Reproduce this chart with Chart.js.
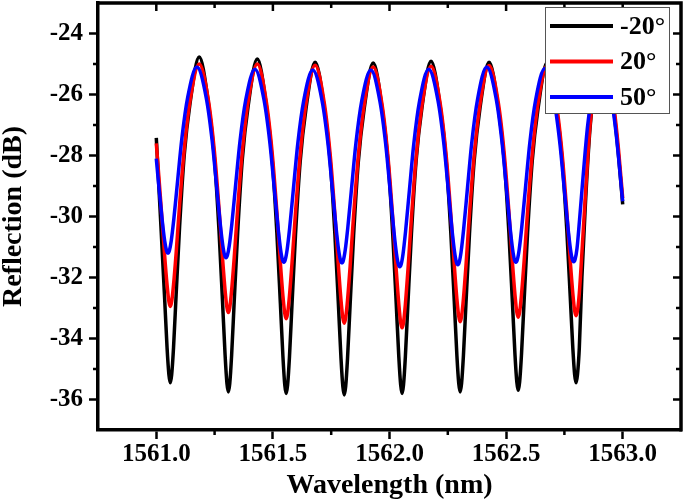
<!DOCTYPE html>
<html lang="en">
<head>
    <meta charset="UTF-8">
    <title>Reflection vs Wavelength</title>
    <script src="https://cdn.jsdelivr.net/npm/chart.js"></script>
    <style>
        body { margin: 0; background: #fff; }
        .wrap { width: 685px; height: 500px; position: relative; }
    </style>
</head>
<body>
    <div class="wrap">
        <canvas id="reflectionChart"></canvas>
    </div>

    <script>
        // Wavelength samples (nm) for the -20° and 20° traces
        const wavelength = [
            1561.000, 1561.020, 1561.035, 1561.046, 1561.054,
            1561.060, 1561.066, 1561.074, 1561.085, 1561.100, 1561.120, 1561.145, 1561.184, 1561.224, 1561.249, 1561.269, 1561.284, 1561.295, 1561.303,
            1561.309, 1561.315, 1561.323, 1561.334, 1561.349, 1561.369, 1561.394, 1561.433, 1561.472, 1561.497, 1561.517, 1561.532, 1561.543, 1561.551,
            1561.557, 1561.563, 1561.571, 1561.582, 1561.597, 1561.617, 1561.642, 1561.681, 1561.721, 1561.746, 1561.766, 1561.781, 1561.792, 1561.800,
            1561.806, 1561.812, 1561.820, 1561.831, 1561.846, 1561.866, 1561.891, 1561.930, 1561.969, 1561.994, 1562.014, 1562.029, 1562.040, 1562.048,
            1562.054, 1562.060, 1562.068, 1562.079, 1562.094, 1562.114, 1562.139, 1562.178, 1562.218, 1562.243, 1562.263, 1562.278, 1562.289, 1562.297,
            1562.303, 1562.309, 1562.317, 1562.328, 1562.343, 1562.363, 1562.388, 1562.427, 1562.467, 1562.492, 1562.512, 1562.527, 1562.538, 1562.546,
            1562.552, 1562.558, 1562.566, 1562.577, 1562.592, 1562.612, 1562.637, 1562.676, 1562.715, 1562.740, 1562.760, 1562.775, 1562.786, 1562.794,
            1562.800, 1562.806, 1562.814, 1562.825, 1562.840, 1562.860, 1562.885, 1562.914, 1562.940, 1562.963, 1562.982, 1563.000
        ];

        // Reflection (dB) at -20°
        const reflMinus20 = [
            -27.42, -30.34, -32.57, -34.28, -35.18,
            -35.45, -35.18, -34.28, -32.57, -30.32, -27.97, -26.27, -24.77, -26.31, -28.06, -30.48, -32.79, -34.54, -35.48,
            -35.75, -35.48, -34.55, -32.80, -30.51, -28.11, -26.37, -24.84, -26.37, -28.13, -30.54, -32.84, -34.59, -35.53,
            -35.80, -35.53, -34.61, -32.87, -30.59, -28.20, -26.46, -24.94, -26.47, -28.21, -30.61, -32.90, -34.65, -35.58,
            -35.85, -35.58, -34.65, -32.91, -30.63, -28.23, -26.49, -24.97, -26.49, -28.22, -30.60, -32.88, -34.61, -35.53,
            -35.80, -35.53, -34.60, -32.86, -30.57, -28.18, -26.44, -24.91, -26.43, -28.16, -30.55, -32.82, -34.56, -35.48,
            -35.75, -35.48, -34.56, -32.83, -30.56, -28.18, -26.45, -24.94, -26.45, -28.17, -30.54, -32.80, -34.52, -35.43,
            -35.70, -35.43, -34.52, -32.80, -30.54, -28.18, -26.46, -24.95, -26.42, -28.10, -30.41, -32.62, -34.30, -35.19,
            -35.45, -35.19, -34.30, -32.00, -29.60, -27.10, -25.50, -24.95, -25.60, -26.60, -28.00, -29.60
        ];

        // Reflection (dB) at 20°
        const reflPlus20 = [
            -27.60, -29.61, -31.20, -32.23, -32.79,
            -32.95, -32.79, -32.23, -31.20, -29.61, -27.78, -26.19, -25.00, -26.22, -27.85, -29.73, -31.36, -32.42, -32.99,
            -33.15, -32.99, -32.42, -31.36, -29.73, -27.85, -26.22, -25.00, -26.25, -27.92, -29.84, -31.51, -32.60, -33.18,
            -33.35, -33.18, -32.60, -31.52, -29.86, -27.95, -26.29, -25.04, -26.31, -28.00, -29.95, -31.64, -32.74, -33.33,
            -33.50, -33.33, -32.74, -31.65, -29.97, -28.04, -26.36, -25.10, -26.38, -28.09, -30.06, -31.77, -32.88, -33.48,
            -33.65, -33.48, -32.88, -31.76, -30.05, -28.07, -26.36, -25.07, -26.33, -28.00, -29.93, -31.61, -32.70, -33.28,
            -33.45, -33.28, -32.69, -31.60, -29.92, -27.99, -26.31, -25.05, -26.29, -27.94, -29.84, -31.49, -32.56, -33.14,
            -33.30, -33.14, -32.56, -31.49, -29.84, -27.94, -26.29, -25.05, -26.28, -27.92, -29.81, -31.45, -32.51, -33.09,
            -33.25, -33.09, -32.51, -31.20, -29.30, -27.00, -25.60, -25.05, -25.55, -26.45, -27.80, -29.40
        ];

        // Wavelength samples (nm) for the 50° trace (slightly blue-shifted)
        const wavelength50 = [
            1561.000, 1561.010, 1561.025, 1561.036, 1561.044,
            1561.050, 1561.056, 1561.064, 1561.075, 1561.090, 1561.110, 1561.135, 1561.174, 1561.214, 1561.239, 1561.259, 1561.274, 1561.285, 1561.293,
            1561.299, 1561.305, 1561.313, 1561.324, 1561.339, 1561.359, 1561.384, 1561.423, 1561.462, 1561.487, 1561.507, 1561.522, 1561.533, 1561.541,
            1561.547, 1561.553, 1561.561, 1561.572, 1561.587, 1561.607, 1561.632, 1561.671, 1561.711, 1561.736, 1561.756, 1561.771, 1561.782, 1561.790,
            1561.796, 1561.802, 1561.810, 1561.821, 1561.836, 1561.856, 1561.881, 1561.920, 1561.959, 1561.984, 1562.004, 1562.019, 1562.030, 1562.038,
            1562.044, 1562.050, 1562.058, 1562.069, 1562.084, 1562.104, 1562.129, 1562.168, 1562.208, 1562.233, 1562.253, 1562.268, 1562.279, 1562.287,
            1562.293, 1562.299, 1562.307, 1562.318, 1562.333, 1562.353, 1562.378, 1562.417, 1562.457, 1562.482, 1562.502, 1562.517, 1562.528, 1562.536,
            1562.542, 1562.548, 1562.556, 1562.567, 1562.582, 1562.602, 1562.627, 1562.666, 1562.705, 1562.730, 1562.750, 1562.765, 1562.776, 1562.784,
            1562.790, 1562.796, 1562.804, 1562.815, 1562.830, 1562.850, 1562.875, 1562.904, 1562.930, 1562.953, 1562.972, 1563.000
        ];

        // Reflection (dB) at 50°
        const reflPlus50 = [
            -28.10, -28.94, -30.10, -30.80, -31.12,
            -31.20, -31.12, -30.80, -30.10, -28.94, -27.42, -26.08, -25.10, -26.10, -27.48, -29.04, -30.23, -30.94, -31.27,
            -31.35, -31.27, -30.95, -30.24, -29.06, -27.52, -26.16, -25.17, -26.18, -27.58, -29.16, -30.36, -31.09, -31.42,
            -31.50, -31.42, -31.09, -30.37, -29.17, -27.59, -26.21, -25.20, -26.21, -27.60, -29.18, -30.38, -31.11, -31.44,
            -31.52, -31.44, -31.11, -30.38, -29.18, -27.60, -26.21, -25.20, -26.23, -27.65, -29.26, -30.49, -31.23, -31.57,
            -31.65, -31.57, -31.23, -30.48, -29.25, -27.63, -26.21, -25.17, -26.20, -27.61, -29.21, -30.43, -31.16, -31.50,
            -31.58, -31.50, -31.16, -30.41, -29.18, -27.56, -26.14, -25.10, -26.12, -27.53, -29.13, -30.35, -31.08, -31.42,
            -31.50, -31.42, -31.09, -30.36, -29.15, -27.56, -26.17, -25.15, -26.16, -27.56, -29.14, -30.34, -31.07, -31.40,
            -31.48, -31.40, -31.05, -30.10, -28.70, -27.00, -25.75, -25.15, -25.45, -26.20, -27.30, -29.50
        ];

        const seriesNames = ['-20°', '20°', '50°'];
        const seriesColors = ['#000000', '#ff0000', '#0000ff'];

        const xTicks = [1561.0, 1561.5, 1562.0, 1562.5, 1563.0];
        const xMinorTicks = [1561.25, 1561.75, 1562.25, 1562.75];
        const yTicks = [-24, -26, -28, -30, -32, -34, -36];
        const yMinorTicks = [-25, -27, -29, -31, -33, -35];

        const serif = "'Liberation Serif', 'Times New Roman', serif";

        const toPoints = (xs, ys) => xs.map((x, i) => ({ x: x, y: ys[i] }));

        // top/right frame, minor ticks and mirrored ticks, plus the boxed legend
        const frameAndLegend = {
            id: 'frameAndLegend',
            afterDraw(chart) {
                const { ctx, chartArea: a, scales: { x, y } } = chart;
                ctx.save();
                ctx.strokeStyle = '#000';
                ctx.lineWidth = 3.5;
                ctx.beginPath();
                ctx.moveTo(a.left - 1.5, a.top);
                ctx.lineTo(a.right, a.top);
                ctx.lineTo(a.right, a.bottom + 1.5);
                ctx.stroke();

                ctx.lineWidth = 2.5;
                ctx.beginPath();
                xMinorTicks.forEach(v => {
                    const px = x.getPixelForValue(v);
                    ctx.moveTo(px, a.bottom); ctx.lineTo(px, a.bottom + 5);
                    ctx.moveTo(px, a.top); ctx.lineTo(px, a.top + 5);
                });
                xTicks.forEach(v => {
                    const px = x.getPixelForValue(v);
                    ctx.moveTo(px, a.top); ctx.lineTo(px, a.top + 8);
                });
                yMinorTicks.forEach(v => {
                    const py = y.getPixelForValue(v);
                    ctx.moveTo(a.left, py); ctx.lineTo(a.left - 5, py);
                    ctx.moveTo(a.right, py); ctx.lineTo(a.right - 5, py);
                });
                yTicks.forEach(v => {
                    const py = y.getPixelForValue(v);
                    ctx.moveTo(a.right, py); ctx.lineTo(a.right - 8, py);
                });
                ctx.stroke();

                // legend box
                const boxW = 124, boxH = 106;
                const bx = a.right - 12 - boxW, by = a.top + 4;
                ctx.fillStyle = '#fff';
                ctx.fillRect(bx, by, boxW, boxH);
                ctx.strokeStyle = '#555';
                ctx.lineWidth = 1;
                ctx.strokeRect(bx + 0.5, by + 0.5, boxW, boxH);

                ctx.font = 'bold 26px ' + serif;
                ctx.textBaseline = 'middle';
                ctx.textAlign = 'left';
                seriesNames.forEach((name, i) => {
                    const ly = by + 19 + i * 35.5;
                    ctx.strokeStyle = seriesColors[i];
                    ctx.lineWidth = 4;
                    ctx.beginPath();
                    ctx.moveTo(bx + 5, ly);
                    ctx.lineTo(bx + 68, ly);
                    ctx.stroke();
                    ctx.fillStyle = '#000';
                    ctx.fillText(name, bx + 75, ly + 1);
                });
                ctx.restore();
            }
        };

        new Chart(document.getElementById('reflectionChart'), {
            type: 'line',
            data: {
                datasets: [
                    {
                        label: seriesNames[0],
                        data: toPoints(wavelength, reflMinus20),
                        borderColor: seriesColors[0],
                        order: 3
                    },
                    {
                        label: seriesNames[1],
                        data: toPoints(wavelength, reflPlus20),
                        borderColor: seriesColors[1],
                        order: 2
                    },
                    {
                        label: seriesNames[2],
                        data: toPoints(wavelength50, reflPlus50),
                        borderColor: seriesColors[2],
                        order: 1
                    }
                ]
            },
            options: {
                responsive: true,
                maintainAspectRatio: false,
                animation: false,
                layout: { padding: { top: 3, right: 4, bottom: 0, left: 0 } },
                elements: {
                    point: { radius: 0 },
                    line: { borderWidth: 3.5, cubicInterpolationMode: 'monotone', fill: false }
                },
                plugins: {
                    legend: { display: false },
                    title: { display: false },
                    tooltip: { enabled: false }
                },
                scales: {
                    x: {
                        type: 'linear',
                        min: 1560.75,
                        max: 1563.25,
                        afterFit: s => {
                            s.height = 70;
                            s.paddingLeft = 0;
                            s.paddingRight = 0;
                        },
                        afterBuildTicks: s => { s.ticks = xTicks.map(v => ({ value: v })); },
                        grid: { drawOnChartArea: false, drawTicks: true, tickLength: 9, tickWidth: 2.5, tickColor: '#000' },
                        border: { display: true, color: '#000', width: 3.5 },
                        ticks: {
                            autoSkip: false,
                            maxRotation: 0,
                            padding: 1,
                            color: '#000',
                            font: { family: serif, size: 25, weight: 'bold' },
                            callback: v => Number(v).toFixed(1)
                        },
                        title: {
                            display: true,
                            text: 'Wavelength (nm)',
                            color: '#000',
                            padding: { top: 0, bottom: 0 },
                            font: { family: serif, size: 28, weight: 'bold', lineHeight: 1 }
                        }
                    },
                    y: {
                        type: 'linear',
                        min: -37,
                        max: -23,
                        afterFit: s => {
                            s.width = 98;
                            s.paddingTop = 0;
                            s.paddingBottom = 0;
                        },
                        afterBuildTicks: s => { s.ticks = yTicks.map(v => ({ value: v })); },
                        grid: { drawOnChartArea: false, drawTicks: true, tickLength: 9, tickWidth: 2.5, tickColor: '#000' },
                        border: { display: true, color: '#000', width: 3.5 },
                        ticks: {
                            padding: 6,
                            color: '#000',
                            font: { family: serif, size: 25, weight: 'bold' },
                            callback: v => String(v)
                        },
                        title: {
                            display: true,
                            text: 'Reflection (dB)',
                            color: '#000',
                            padding: { top: 0, bottom: 0 },
                            font: { family: serif, size: 28, weight: 'bold', lineHeight: 1 }
                        }
                    }
                }
            },
            plugins: [frameAndLegend]
        });
    </script>
</body>
</html>
